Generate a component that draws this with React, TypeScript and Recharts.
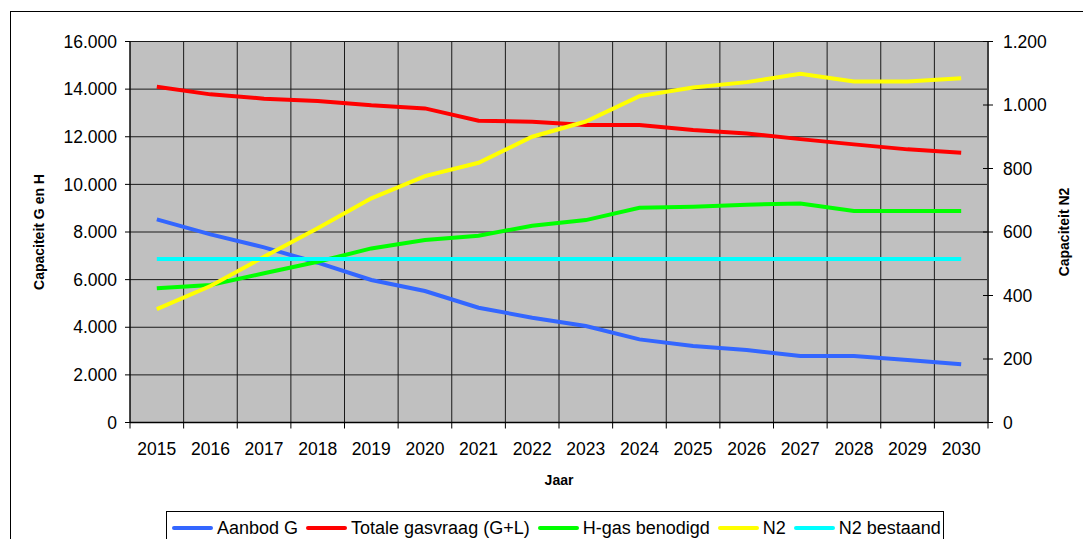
import React from 'react';
import { LineChart, Line, XAxis, YAxis, CartesianGrid, Label } from 'recharts';

const years = ['2015', '2016', '2017', '2018', '2019', '2020', '2021', '2022', '2023', '2024', '2025', '2026', '2027', '2028', '2029', '2030'];
const aanbodG = [8530, 7900, 7355, 6710, 5985, 5520, 4820, 4400, 4050, 3490, 3210, 3045, 2790, 2790, 2625, 2445];
const totaleGasvraag = [14100, 13780, 13600, 13500, 13320, 13190, 12670, 12630, 12490, 12490, 12280, 12140, 11900, 11680, 11470, 11330];
const hGasBenodigd = [5635, 5775, 6265, 6750, 7310, 7660, 7845, 8265, 8500, 9020, 9060, 9145, 9200, 8880, 8880, 8880];
const n2 = [357, 430, 522, 612, 706, 776, 818, 900, 948, 1028, 1055, 1072, 1098, 1074, 1074, 1084];
const n2Bestaand = [515, 515, 515, 515, 515, 515, 515, 515, 515, 515, 515, 515, 515, 515, 515, 515];

const leftTicks = [0, 2000, 4000, 6000, 8000, 10000, 12000, 14000, 16000];
const rightTicks = [0, 200, 400, 600, 800, 1000, 1200];

const series = [
  { key: 'aanbod', name: 'Aanbod G', color: '#3366FF', axis: 'left', values: aanbodG },
  { key: 'totaal', name: 'Totale gasvraag (G+L)', color: '#FF0000', axis: 'left', values: totaleGasvraag },
  { key: 'hgas', name: 'H-gas benodigd', color: '#00FF00', axis: 'left', values: hGasBenodigd },
  { key: 'n2', name: 'N2', color: '#FFFF00', axis: 'right', values: n2 },
  { key: 'n2b', name: 'N2 bestaand', color: '#00FFFF', axis: 'right', values: n2Bestaand },
];

const data = years.map((year, i) => {
  const row: Record<string, any> = { year };
  series.forEach((s) => {
    row[s.key] = s.values[i];
  });
  return row;
});

const FONT = '"Liberation Sans", Arial, Helvetica, sans-serif';
const fmt = (v: number) => String(v).replace(/\B(?=(\d{3})+(?!\d))/g, '.');
const CAT_COUNT = years.length;
const HALF_BAND = 858 / CAT_COUNT / 2;

const RightTick = (p: any) => (
  <g>
    <line x1={p.x - 5} x2={p.x + 5} y1={p.y} y2={p.y} stroke="#000" strokeWidth={1} />
    <text x={p.x + 15} y={p.y} dy="0.35em" fontSize={17.5} fontFamily={FONT} fill="#000">
      {fmt(p.payload.value)}
    </text>
  </g>
);

const CatTick = (p: any) => {
  const axisY = p.y - 20;
  const cx = p.payload.coordinate;
  const isLast = p.index === CAT_COUNT - 1;
  return (
    <g>
      <line x1={cx - HALF_BAND} x2={cx - HALF_BAND} y1={axisY} y2={axisY + 6} stroke="#000" strokeWidth={1} />
      {isLast && <line x1={cx + HALF_BAND} x2={cx + HALF_BAND} y1={axisY} y2={axisY + 6} stroke="#000" strokeWidth={1} />}
      <text x={cx} y={p.y} dy="0.71em" textAnchor="middle" fontSize={17.5} fontFamily={FONT} fill="#000">
        {p.payload.value}
      </text>
    </g>
  );
};

export default function App() {
  return (
    <div style={{ position: 'absolute', left: 0, top: 0, width: 1083, height: 539, overflow: 'hidden', background: '#fff', fontFamily: FONT }}>
      <div style={{ position: 'absolute', left: 10, top: 11, width: 1200, height: 700, border: '1px solid #000', boxSizing: 'border-box' }} />
      <div style={{ position: 'absolute', left: 0, top: 0 }}>
        <LineChart width={1083} height={539} data={data} margin={{ top: 41.5, right: 10, bottom: 86.5, left: 10 }}>
          <CartesianGrid
            yAxisId="left"
            fill="#c0c0c0"
            fillOpacity={1}
            stroke="#1a1a1a"
            strokeWidth={1}
            verticalCoordinatesGenerator={({ offset }: any) =>
              Array.from({ length: CAT_COUNT + 1 }, (_, i) => offset.left + (i * offset.width) / CAT_COUNT)
            }
          />
          <XAxis
            dataKey="year"
            type="category"
            padding={{ left: HALF_BAND, right: HALF_BAND }}
            interval={0}
            height={30}
            axisLine={{ stroke: '#000', strokeWidth: 1.5 }}
            tickLine={false}
            tickSize={6}
            tickMargin={14}
            tick={<CatTick />}
          >
            <Label
              content={() => (
                <text x={559} y={480} textAnchor="middle" dominantBaseline="central" fontSize={14} fontWeight="bold" fontFamily={FONT} fill="#000">
                  Jaar
                </text>
              )}
            />
          </XAxis>
          <YAxis
            yAxisId="left"
            orientation="left"
            width={120}
            domain={[0, 16000]}
            ticks={leftTicks}
            interval={0}
            allowDataOverflow
            tickFormatter={fmt}
            tickSize={5}
            tickMargin={8}
            axisLine={{ stroke: '#000', strokeWidth: 1 }}
            tickLine={{ stroke: '#000', strokeWidth: 1 }}
            tick={{ fontSize: 17.5, fill: '#000', fontFamily: FONT }}
          >
            <Label
              content={() => (
                <text x={39} y={232} transform="rotate(-90 39 232)" textAnchor="middle" dominantBaseline="central" fontSize={14} fontWeight="bold" fontFamily={FONT} fill="#000">
                  Capaciteit G en H
                </text>
              )}
            />
          </YAxis>
          <YAxis
            yAxisId="right"
            orientation="right"
            width={85}
            domain={[0, 1200]}
            ticks={rightTicks}
            interval={0}
            allowDataOverflow
            tickSize={0}
            tickMargin={0}
            tickLine={false}
            axisLine={{ stroke: '#404040', strokeWidth: 2 }}
            tick={<RightTick />}
          >
            <Label
              content={() => (
                <text x={1064} y={232} transform="rotate(-90 1064 232)" textAnchor="middle" dominantBaseline="central" fontSize={14} fontWeight="bold" fontFamily={FONT} fill="#000">
                  Capaciteit N2
                </text>
              )}
            />
          </YAxis>
          {series.map((s) => (
            <Line
              key={s.key}
              yAxisId={s.axis}
              type="linear"
              dataKey={s.key}
              name={s.name}
              stroke={s.color}
              strokeWidth={4}
              dot={false}
              activeDot={false}
              isAnimationActive={false}
            />
          ))}
        </LineChart>
      </div>
      <div
        style={{
          position: 'absolute',
          left: 166,
          top: 511,
          width: 778,
          height: 36,
          border: '1px solid #000',
          boxSizing: 'border-box',
          background: '#fff',
          display: 'flex',
          alignItems: 'flex-start',
          paddingLeft: 5,
          paddingTop: 6,
          fontSize: 18,
          color: '#000',
          whiteSpace: 'nowrap',
        }}
      >
        {series.map((s) => (
          <div key={s.key} style={{ display: 'flex', alignItems: 'center', marginRight: 8, height: 20 }}>
            <div style={{ width: 41, height: 4, background: s.color, borderRadius: 2, marginRight: 4 }} />
            <span style={{ lineHeight: '20px' }}>{s.name}</span>
          </div>
        ))}
      </div>
    </div>
  );
}
